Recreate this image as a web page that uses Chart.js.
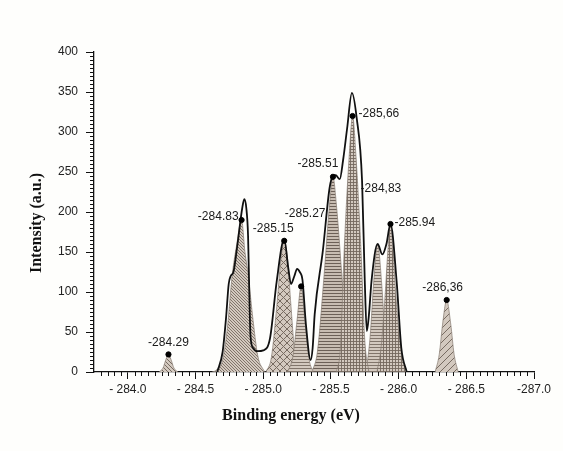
<!DOCTYPE html>
<html>
<head>
    <title>XPS peaks</title>
    <script src="https://cdn.jsdelivr.net/npm/chart.js"></script>
    <style>
        body { margin: 0; background: #fefefc; }
    </style>
</head>
<body>
    <div style="width: 563px; height: 451px;">
        <canvas id="myChart" width="563" height="451"></canvas>
    </div>

    <script>
        // binding energy shown as negative values, axis runs -284 -> -287
        var xTickValues = [-284.0, -284.5, -285.0, -285.5, -286.0, -286.5, -287.0];
        var xTickLabels = ['- 284.0', '- 284.5', '- 285.0', '- 285.5', '- 286.0', '- 286.5', '-287.0'];
        var yTickValues = [0, 50, 100, 150, 200, 250, 300, 350, 400];

        // fitted components
        var peakH_x = [-284.23, -284.26, -284.28, -284.30, -284.32, -284.34, -284.37];
        var peakH_y = [0, 5, 15, 22, 15, 5, 0];
        var peakA_x = [-284.62, -284.65, -284.70, -284.735, -284.77, -284.805, -284.84, -284.865, -284.89, -284.92, -284.96, -285.01];
        var peakA_y = [0, 2, 15, 55, 120, 160, 190, 150, 120, 72, 20, 0];
        var peakB_x = [-285.02, -285.06, -285.10, -285.13, -285.155, -285.18, -285.205, -285.235, -285.27];
        var peakB_y = [0, 18, 82, 140, 164, 140, 82, 20, 0];
        var peakC_x = [-285.18, -285.22, -285.25, -285.28, -285.31, -285.34, -285.37];
        var peakC_y = [0, 20, 65, 107, 60, 15, 0];
        var peakD_x = [-285.36, -285.40, -285.45, -285.49, -285.515, -285.54, -285.59, -285.64];
        var peakD_y = [0, 25, 122, 210, 244, 210, 100, 0];
        var peakE_x = [-285.54, -285.57, -285.60, -285.635, -285.66, -285.685, -285.72, -285.75, -285.78];
        var peakE_y = [0, 30, 160, 270, 320, 270, 160, 40, 0];
        var peakF_x = [-285.76, -285.79, -285.815, -285.845, -285.875, -285.90, -285.93];
        var peakF_y = [0, 45, 110, 160, 110, 45, 0];
        var peakG_x = [-285.84, -285.87, -285.90, -285.92, -285.94, -285.96, -285.98, -286.02, -286.06];
        var peakG_y = [0, 30, 95, 150, 185, 150, 95, 25, 0];
        var peakI_x = [-286.27, -286.30, -286.325, -286.355, -286.385, -286.41, -286.44];
        var peakI_y = [0, 22, 60, 90, 60, 22, 0];

        // measured envelope
        var envelope_x = [-284.66, -284.70, -284.725, -284.745, -284.76, -284.78, -284.81, -284.845, -284.86, -284.875,
            -284.888, -284.897, -284.906, -284.925, -284.96, -285.00, -285.05, -285.10, -285.155, -285.185,
            -285.205, -285.23, -285.25, -285.27, -285.29, -285.315, -285.35, -285.365, -285.38, -285.44,
            -285.49, -285.515, -285.535, -285.565, -285.59, -285.62, -285.655, -285.69, -285.73, -285.75,
            -285.765, -285.78, -285.80, -285.845, -285.88, -285.91, -285.94, -285.985, -286.02, -286.06];
        var envelope_y = [0, 25, 67, 110, 120, 125, 160, 205, 216, 205,
            170, 100, 45, 30, 26, 27, 42, 114, 166, 130,
            110, 120, 129, 125, 115, 60, 15, 30, 72, 151,
            230, 245, 246, 241, 265, 305, 349, 318, 239, 114,
            51, 70, 114, 160, 147, 160, 185, 114, 30, 0];

        // marked peak maxima and their labels
        var dotX = [-284.30, -284.84, -285.155, -285.28, -285.515, -285.66, -285.94, -286.355];
        var dotY = [22, 190, 164, 107, 244, 320, 185, 90];
        var peakLabels = ['-284.29', '-284.83', '-285.15', '-285.27', '-285.51', '-285,66', '-284,83', '-285.94', '-286,36'];

        // label placement: which dot it hangs on, pixel offset, alignment
        var labelPlace = [
            { dot: 0, dx: 0, dy: -12, align: 'center' },
            { dot: 1, dx: -3, dy: -3, align: 'right' },
            { dot: 2, dx: -11, dy: -12, align: 'center' },
            { dot: 3, dx: 4, dy: -73, align: 'center' },
            { dot: 4, dx: -15, dy: -13, align: 'center' },
            { dot: 5, dx: 6, dy: -2, align: 'left' },
            { dot: 5, dx: 8, dy: 73, align: 'left' },
            { dot: 6, dx: 4, dy: -1, align: 'left' },
            { dot: 7, dx: -4, dy: -12, align: 'center' }
        ];

        var ctx = document.getElementById('myChart').getContext('2d');

        function makePattern(kind, s, bg, fg, lw) {
            var c = document.createElement('canvas');
            c.width = s; c.height = s;
            var g = c.getContext('2d');
            g.fillStyle = bg;
            g.fillRect(0, 0, s, s);
            g.strokeStyle = fg;
            g.lineWidth = lw;
            g.beginPath();
            if (kind === 'h' || kind === 'grid') {
                g.moveTo(0, s - 0.5); g.lineTo(s, s - 0.5);
            }
            if (kind === 'grid') {
                g.moveTo(s - 0.5, 0); g.lineTo(s - 0.5, s);
            }
            if (kind === 'back' || kind === 'cross') {
                g.moveTo(0, 0); g.lineTo(s, s);
                g.moveTo(-1, s - 1); g.lineTo(1, s + 1);
                g.moveTo(s - 1, -1); g.lineTo(s + 1, 1);
            }
            if (kind === 'fwd' || kind === 'cross') {
                g.moveTo(0, s); g.lineTo(s, 0);
                g.moveTo(-1, 1); g.lineTo(1, -1);
                g.moveTo(s - 1, s + 1); g.lineTo(s + 1, s - 1);
            }
            g.stroke();
            return ctx.createPattern(c, 'repeat');
        }

        var bg = '#d3c9bf';
        var fg = '#776b61';

        function xy(xs, ys) {
            return xs.map(function (x, i) { return { x: x, y: ys[i] }; });
        }

        function peak(xs, ys, pattern, order) {
            return {
                type: 'line',
                data: xy(xs, ys),
                backgroundColor: pattern,
                borderColor: '#857a70',
                borderWidth: 0.7,
                fill: 'origin',
                pointRadius: 0,
                cubicInterpolationMode: 'monotone',
                order: order
            };
        }

        // minor ticks on both axes
        var minorTicks = {
            id: 'minorTicks',
            afterDraw: function (chart) {
                var c = chart.ctx;
                var xs = chart.scales.x, ys = chart.scales.y;
                c.save();
                c.strokeStyle = '#111';
                c.lineWidth = 1;
                c.beginPath();
                for (var v = 5; v < 400; v += 5) {
                    if (v % 50 === 0) continue;
                    var py = Math.round(ys.getPixelForValue(v)) + 0.5;
                    c.moveTo(xs.left - 4, py); c.lineTo(xs.left, py);
                }
                for (var k = 1; k <= 65; k++) {
                    var e = -283.75 - k * 0.05;
                    if (k % 10 === 5) continue;
                    var px = Math.round(xs.getPixelForValue(e)) + 0.5;
                    c.moveTo(px, ys.bottom); c.lineTo(px, ys.bottom + 4);
                }
                c.stroke();
                c.restore();
            }
        };

        // peak labels and axis titles
        var textLayer = {
            id: 'textLayer',
            afterDatasetsDraw: function (chart) {
                var c = chart.ctx;
                var xs = chart.scales.x, ys = chart.scales.y;
                c.save();
                c.fillStyle = '#1a1a1a';
                c.font = '12px "Liberation Sans", Arial, sans-serif';
                c.textBaseline = 'middle';
                labelPlace.forEach(function (p, i) {
                    var px = xs.getPixelForValue(dotX[p.dot]);
                    var py = ys.getPixelForValue(dotY[p.dot]);
                    c.textAlign = p.align;
                    c.fillText(peakLabels[i], px + p.dx, py + p.dy);
                });

                c.fillStyle = '#111';
                c.font = 'bold 16px "Liberation Serif", "Times New Roman", serif';
                c.textAlign = 'center';
                c.fillText('Binding energy (eV)', 291, 416);
                c.translate(37, 223);
                c.rotate(-Math.PI / 2);
                c.fillText('Intensity (a.u.)', 0, 0);
                c.restore();
            }
        };

        var datasets = [
            {
                type: 'scatter',
                data: xy(dotX, dotY),
                backgroundColor: '#000',
                borderColor: '#000',
                pointRadius: 2.6,
                order: -1
            },
            {
                type: 'line',
                data: xy(envelope_x, envelope_y),
                borderColor: '#111',
                borderWidth: 1.8,
                fill: false,
                pointRadius: 0,
                cubicInterpolationMode: 'monotone',
                order: 0
            },
            peak(peakH_x, peakH_y, makePattern('back', 4, bg, fg, 1), 5),
            peak(peakA_x, peakA_y, makePattern('back', 3, bg, fg, 0.9), 5),
            peak(peakB_x, peakB_y, makePattern('cross', 7, bg, fg, 1), 6),
            peak(peakC_x, peakC_y, makePattern('h', 3, bg, fg, 0.9), 5),
            peak(peakD_x, peakD_y, makePattern('h', 3, '#c8bdb2', '#6c6057', 1), 6),
            peak(peakE_x, peakE_y, makePattern('grid', 3, bg, '#74685e', 0.9), 5),
            peak(peakF_x, peakF_y, makePattern('h', 3, bg, fg, 0.9), 6),
            peak(peakG_x, peakG_y, makePattern('grid', 3, bg, '#74685e', 0.9), 5),
            peak(peakI_x, peakI_y, makePattern('fwd', 7, bg, fg, 1), 5)
        ];

        var myChart = new Chart(ctx, {
            data: { datasets: datasets },
            options: {
                responsive: false,
                animation: false,
                layout: { padding: { top: 52, right: 29, left: 0, bottom: 0 } },
                plugins: {
                    legend: { display: false },
                    tooltip: { enabled: false }
                },
                scales: {
                    x: {
                        type: 'linear',
                        reverse: true,
                        min: -287,
                        max: -283.75,
                        afterBuildTicks: function (scale) {
                            scale.ticks = xTickValues.map(function (v) { return { value: v }; });
                        },
                        afterFit: function (scale) { scale.height = 79; },
                        grid: { display: true, drawOnChartArea: false, drawTicks: true, tickLength: 7, tickColor: '#111' },
                        border: { display: true, color: '#111', width: 1.3 },
                        ticks: {
                            padding: 3,
                            maxRotation: 0,
                            color: '#222',
                            font: { family: '"Liberation Sans", Arial, sans-serif', size: 12 },
                            callback: function (value, index) { return xTickLabels[index]; }
                        }
                    },
                    y: {
                        min: 0,
                        max: 400,
                        afterBuildTicks: function (scale) {
                            scale.ticks = yTickValues.map(function (v) { return { value: v }; });
                        },
                        afterFit: function (scale) { scale.width = 94; },
                        grid: { display: true, drawOnChartArea: false, drawTicks: true, tickLength: 8, tickColor: '#111' },
                        border: { display: true, color: '#111', width: 1.3 },
                        ticks: {
                            padding: 8,
                            color: '#222',
                            font: { family: '"Liberation Sans", Arial, sans-serif', size: 12 }
                        }
                    }
                }
            },
            plugins: [minorTicks, textLayer]
        });
    </script>
</body>
</html>
